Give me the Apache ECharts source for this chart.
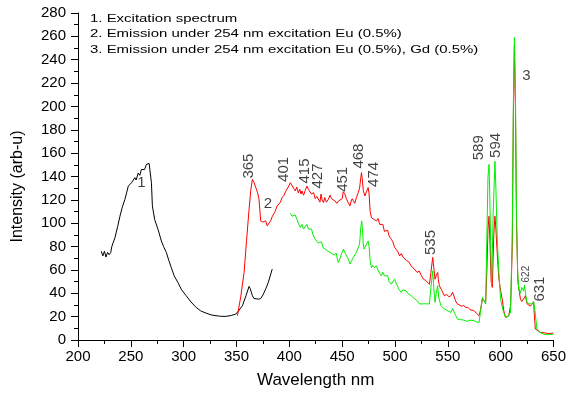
<!DOCTYPE html>
<html>
<head>
<meta charset="utf-8">
<script src="https://cdn.jsdelivr.net/npm/echarts@6/dist/echarts.min.js"></script>
<style>
html, body { margin: 0; padding: 0; background: #fff; }
#main { width: 569px; height: 394px; }
</style>
</head>
<body>
<div id="main"></div>
<script>
// 数据
var exNm = [222,223.5,225,226.5,228,229.5,231,232,235,237.5,239.7,242,244.4,246,247.6,249,250.7,252,253.8,255,257,258.5,260,261.7,263,264.8,266,267.3,268,268.8,269.5,270.4,272.6,275.7,278.9,281,283.6,286,288.3,291,294.5,298,302.4,307,311.8,316,321.2,326,330.6,335,340,345,349.4,352,355.6,359,361.9,363,365,366.5,368.2,371,372.9,375,377.6,380,383.8];
var exVal = [76,72,76,71,75,73,75,80,87.7,97,106,114,120.5,126,131.8,133,134.7,133.5,139,137,143,141,146,147.5,146,150.4,149,151.2,150,152,134.7,114.8,103,94.8,84.8,80,75,68,62,55,49.3,43,37.9,32.5,27.9,25,23,21.5,20.8,20.3,20.2,21,22.2,25,29.3,38,45.9,44,38,35.5,35,35,35.5,38.5,43.6,49,60.7];

var euNm = [350.9,354,357.2,359.5,361.9,363.5,365,366.5,368.2,370,371.3,372.9,375,377.6,379,380.5,382.3,384,386,388.5,390,391.5,393.2,395,397,399,401,402.5,404,405.7,407,408.5,410,411,412,413.5,415,416.7,418,419.5,421,423,424.5,426,427.6,429,430,431,432.3,433.5,435,437,438.5,440,441.5,443.3,445,446.5,448,450,451,452.7,454,455.5,457.4,458.5,459.5,460.5,462,463.5,465.2,466.5,467.5,468.3,469,470,471.5,473,474.6,475.5,476.5,477.7,479,480.5,482.4,484,485.5,487.1,488.5,490,491.8,493,494.5,496.5,498,499.7,501,502.5,504.4,506,507.5,509.1,511,513,515.3,517,519,521,523,525,527,529,530.5,532.6,534,535.7,536.7,537.9,539,540.4,541,542,544,546.7,549,551,552.9,554.5,556.1,557.5,559.2,561,563,565,567,569,571,574.9,577,579.6,581,582.7,584,585.8,587,588,589,590,591,592.1,593.5,594.6,595.5,597,598.4,600,601.5,603,604.6,606,607.7,609.5,611,612,613,614,615,616.3,618.7,620,621.2,622.3,623.4,625,626.5,628,629.5,631.2,632,632.8,634,637.5,642,646,650];
var euVal = [20.8,37,57.8,85,112,128,137.6,135,133.3,126,120.5,102,101,102,97.7,99,102,106,109,114.7,113,118,122,124,128,131,134.7,133,130,127.6,131,126,129,125,127.6,124,128,131.8,129,130,125,126.2,121,123,122,118,125,120,117.7,122,118,120.5,124,121,122,119,117,119,117.7,121,127,124.7,121,118,114.8,119,121,122,117,122,126.2,130,138,143.3,138,128,123.3,127,130.5,125,110,104.8,106,103,102,104,99,97.7,99,93,92,94,89,86.3,84,79.2,80,76,72,74,71,70.7,68,67,63.5,65,60,57.8,59,55,52,51,50,47.8,58,70.7,62,52,55,57.8,52,46.4,43,37.9,39,37,37.9,41,39.3,33,30.8,31,29,29.5,27.9,28,26,25,23,20.8,26,35,36,32.2,60,95,106,80,50,45,90,106,95,70,52,42,35,25,19.4,19,20.8,30,80,190,252,200,100,50,35,33,32.2,36,37.9,31,29.3,29,30,32.2,20,9.4,8,6.6,6,5.5,6];

var gdNm = [401,402.5,404.2,405.5,407.3,408.5,410.4,412,413.5,415.1,416.5,418,419.8,421,422.5,424.5,426,427.5,429.2,430.5,432,433.9,435,436.5,438.6,440,441.5,443.3,444.5,445.5,446.4,448,449.5,451.1,452.5,454.2,455.5,457.4,459,460.5,462,463.5,465.2,466.5,467.5,468.5,469.2,470,470.8,472,473.5,474.6,475.5,476.5,477.7,479,480.5,482.4,484,485.5,487.1,488.5,490,491.8,493,494.5,496.5,498,499.5,501.2,502.5,504,505.9,507.5,509,510.6,512,513.5,515.3,517,519,521,523.2,525,527,530,532.6,534,535.7,536.7,537.9,539,540.4,541.5,543.5,546,548,550,552.9,554.5,556.1,557.5,559.2,562,565,568,571,574.9,577,579.6,581,582.7,584,585.8,587,588,589,590,591.4,593,594.6,595.5,596.8,598.5,599.9,602,604.6,607,609.3,611,612,613,614,615,616,617.1,618.5,620,621.8,622.5,623.5,624.9,627,629.6,631.2,632.5,634.3,637,641,645,650];
var gdVal = [108.5,106,104.8,107,103.4,100,96.3,99,95,96.3,99,95,93.4,95,90,86.3,87,83,82,84,79,77.8,79,76,75,76,73,72,74,69,66.4,70,74,77.8,75,72,70,65,68,70.7,72,75,79.2,82,95,102,95,82,77.8,79,83,84.8,80,68,62,64,62,63.5,60,57,55,58,55,53.6,55,50,47.8,49,52,50.7,46,43,40.8,43,44,42,40,39,37.9,38,35,33.6,30.8,32,31,31,30.8,45,59.2,45,32.2,40,46.4,36,29.3,27,26,25,23.6,27,26.5,21,17.9,17.5,17,16,17,16.5,15.5,15,25,36.5,35,30.8,90,140,150.4,110,47.8,110,153,130,86.3,55,35,26,19.4,20,23.6,90,200,259,210,110,60,43.6,40,45,42,47,40,32.2,31,30.8,33,25,9.4,6.5,5,4.5,5];

// 峰值标注
var peakLabels = ['365','401','415','427','451','468','474','535','589','594','622','631'];
var peakNm = [361.9,394.8,414.5,427,451.1,465.9,480.3,534.1,579.6,595.2,624.3,637.4];
var peakY = [148.9,146.1,144.7,140.4,137.6,157.5,141.8,83.5,164.6,166.6,56.4,43.6];
var curveLabels = ['1','2','3'];
var curveNm = [260.1,379.7,624.5];
var curveY = [134.7,116.2,226.4];

var legendLines = ['1. Excitation spectrum',
	'2. Emission under 254 nm excitation Eu (0.5%)',
	'3. Emission under 254 nm excitation Eu (0.5%), Gd (0.5%)'];

var xTicks = [200, 650, 50];
var yTicks = [0, 280, 20];

function pairs(xs, ys) {
	var out = [];
	for (var i = 0; i < xs.length; i++) out.push([xs[i], ys[i]]);
	return out;
}

var FONT = 'Liberation Sans, Arial, sans-serif';

var peakData = [];
for (var i = 0; i < peakLabels.length; i++) {
	peakData.push({
		name: peakLabels[i],
		value: [peakNm[i], peakY[i]],
		label: { fontSize: peakLabels[i] === '622' ? 10 : 15 }
	});
}
var curveData = [];
for (var j = 0; j < curveLabels.length; j++) {
	curveData.push({ name: curveLabels[j], value: [curveNm[j], curveY[j]] });
}

var myChart = echarts.init(document.getElementById('main'));

var axisCommon = {
	axisLine: { show: true, lineStyle: { color: '#000', width: 1 } },
	axisTick: { show: true, inside: false, length: 7, lineStyle: { color: '#000' } },
	minorTick: { show: true, splitNumber: 2, length: 4, lineStyle: { color: '#000' } },
	splitLine: { show: false },
	minorSplitLine: { show: false }
};

var option = {
	animation: false,
	backgroundColor: '#fff',
	grid: { left: 78, right: 12, top: 13, bottom: 53 },
	xAxis: echarts.util.merge({
		type: 'value',
		min: xTicks[0], max: xTicks[1], interval: xTicks[2],
		name: 'Wavelength nm',
		nameLocation: 'middle',
		nameGap: 32,
		nameTextStyle: { fontFamily: FONT, fontSize: 17, color: '#000' },
		axisLabel: { fontFamily: FONT, fontSize: 15, color: '#000', margin: 9 }
	}, axisCommon),
	yAxis: echarts.util.merge({
		type: 'value',
		min: yTicks[0], max: yTicks[1], interval: yTicks[2],
		name: 'Intensity (arb-u)',
		nameLocation: 'middle',
		nameGap: 52,
		nameTextStyle: { fontFamily: FONT, fontSize: 16, color: '#000', padding: [0, 20, 0, 0] },
		axisLabel: { fontFamily: FONT, fontSize: 15, color: '#000', margin: 12 }
	}, axisCommon),
	graphic: [{
		type: 'text',
		x: 90,
		y: 11,
		scaleX: 1.36,
		style: {
			text: legendLines.join('\n'),
			font: '11px ' + FONT,
			lineHeight: 15.5,
			fill: '#000',
			verticalAlign: 'top'
		}
	}],
	series: [{
		name: 'Excitation',
		type: 'line',
		data: pairs(exNm, exVal),
		showSymbol: false,
		lineStyle: { color: '#000', width: 1 }
	}, {
		name: 'Eu',
		type: 'line',
		data: pairs(euNm, euVal),
		showSymbol: false,
		lineStyle: { color: '#ff0000', width: 1 }
	}, {
		name: 'Eu Gd',
		type: 'line',
		data: pairs(gdNm, gdVal),
		showSymbol: false,
		lineStyle: { color: '#00f000', width: 1 }
	}, {
		name: 'peaks',
		type: 'scatter',
		symbolSize: 0,
		data: peakData,
		label: {
			show: true, position: 'inside', formatter: '{b}', rotate: 90,
			fontFamily: FONT, color: '#111'
		},
		z: 5
	}, {
		name: 'curves',
		type: 'scatter',
		symbolSize: 0,
		data: curveData,
		label: {
			show: true, position: 'inside', formatter: '{b}',
			fontFamily: FONT, fontSize: 15, color: '#111'
		},
		z: 5
	}]
};

myChart.setOption(option);
</script>
</body>
</html>
